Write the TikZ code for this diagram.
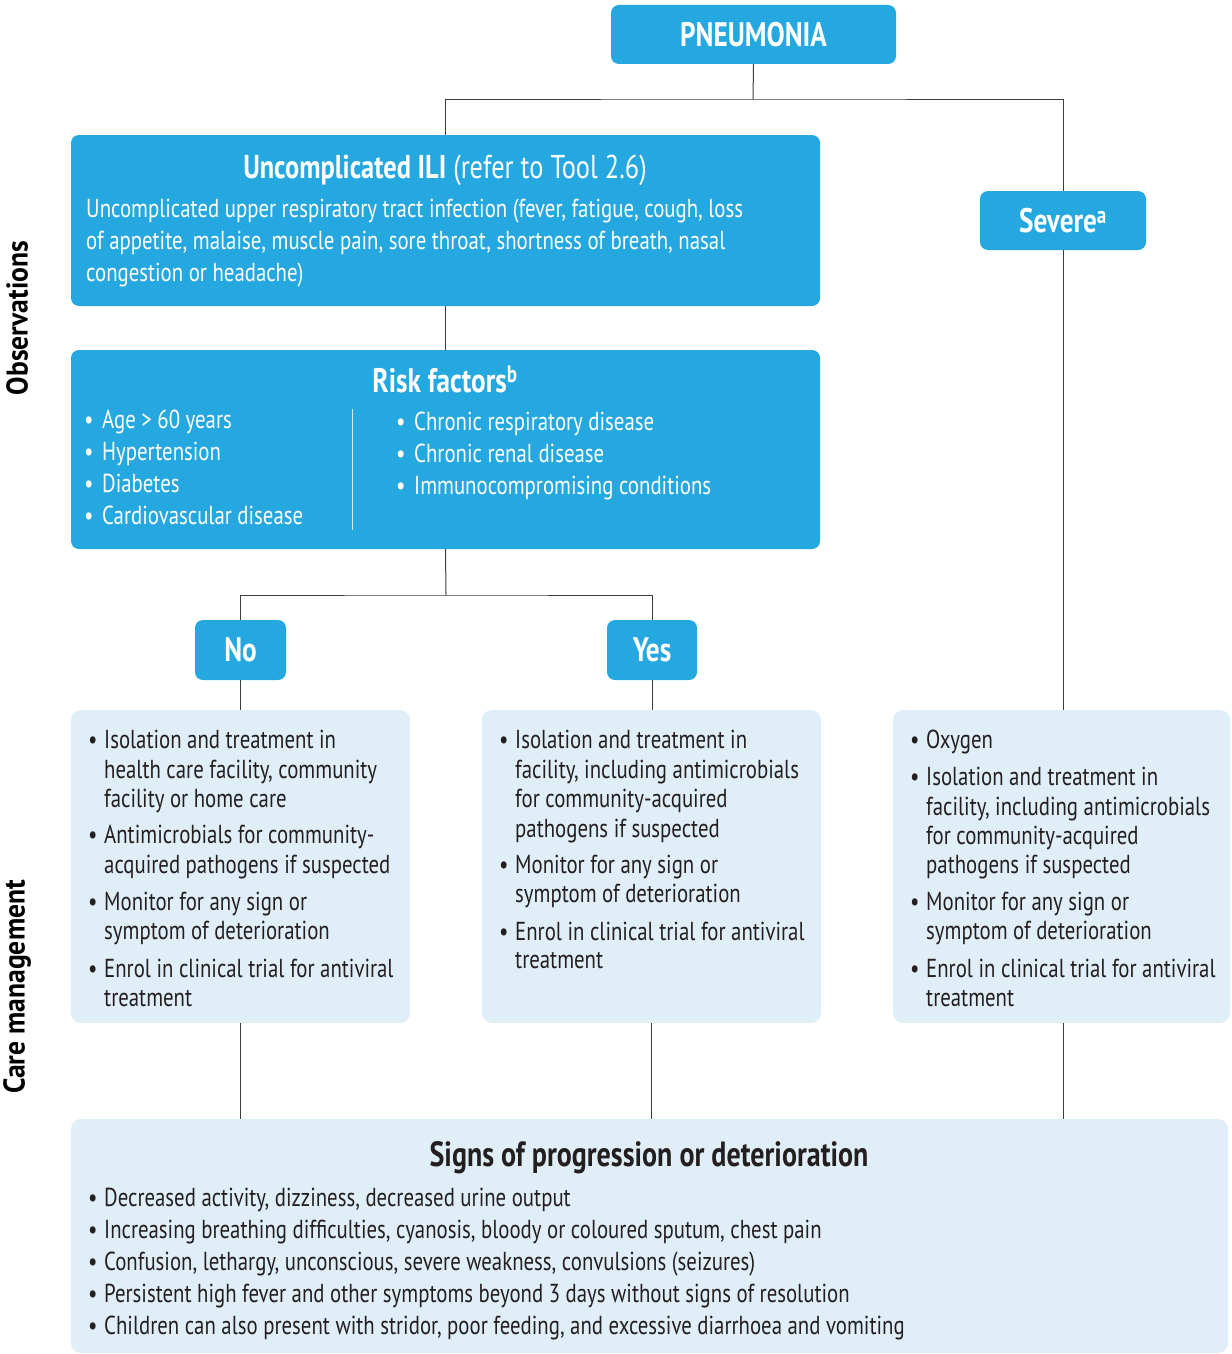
\documentclass[tikz,border=0pt]{standalone}
\usepackage{fontspec}
\setmainfont[FakeStretch=0.80]{PT Sans}
\newfontfamily\sidefont[FakeStretch=0.92]{PT Sans}
\definecolor{cblue}{HTML}{24A8DF}
\definecolor{clight}{HTML}{E0EEF8}
\definecolor{cdark}{HTML}{231F20}
\definecolor{lc}{HTML}{3C3C3C}
\tikzset{
  conn/.style={draw=lc, line width=1pt},
  bluebox/.style={fill=cblue, rounded corners=8pt, inner sep=0pt, text=white, font=\fontsize{34}{40}\selectfont\bfseries},
  lightbox/.style={fill=clight, rounded corners=10pt, inner sep=0pt},
  wt/.style={text=white, inner sep=0pt, anchor=base west, font=\fontsize{26}{30}\selectfont},
  dt/.style={text=cdark, inner sep=0pt, anchor=base west, font=\fontsize{26}{30}\selectfont},
  wtitle/.style={text=white, inner sep=0pt, anchor=base, font=\fontsize{33}{38}\selectfont},
  dtitle/.style={text=cdark, inner sep=0pt, anchor=base, font=\fontsize{35}{40}\selectfont\bfseries},
  side/.style={text=black, inner sep=0pt, rotate=90, font=\sidefont\fontsize{30}{34}\selectfont\bfseries},
}
\newcommand\blines[5]{%
  \foreach \yy/\bb/\txt [count=\ii] in {#5} {%
    \node[#1] (#2t\ii) at (#4,\yy) {\txt};%
    \ifnum\bb=1 \node[#1] (#2b\ii) at (#3,\yy) {\textbullet};\fi
  }}
\begin{document}
\begin{tikzpicture}[x=1pt,y=-1pt]
\useasboundingbox (0,0) rectangle (1231,1354);
% side labels
\node[side] (obs) at (17,318) {Observations};
\node[side] (carem) at (17,987) {Care management};
% boxes
\node[bluebox, minimum width=285pt, minimum height=59pt] (pn) at (753.5,34.5) {PNEUMONIA};
\node[bluebox, minimum width=749pt, minimum height=171pt] (ili) at (445.5,220.5) {};
\node[bluebox, minimum width=749pt, minimum height=199pt] (risk) at (445.5,449.5) {};
\node[bluebox, minimum width=166pt, minimum height=59pt] (sev) at (1063,220.5) {Severe\textsuperscript{a}};
\node[bluebox, minimum width=91pt, minimum height=60pt] (no) at (240.5,650) {No};
\node[bluebox, minimum width=90pt, minimum height=60pt] (yes) at (652,650) {Yes};
\node[lightbox, minimum width=339pt, minimum height=313pt] (nocare) at (240.5,866.5) {};
\node[lightbox, minimum width=339pt, minimum height=313pt] (yescare) at (651.5,866.5) {};
\node[lightbox, minimum width=337pt, minimum height=313pt] (sevcare) at (1061.5,866.5) {};
\node[lightbox, minimum width=1157pt, minimum height=234pt] (signs) at (649.5,1236) {};
% connectors
\coordinate (j1) at (753,99);
\coordinate (j2) at (446,595);
\draw[conn] (pn.south) -- (j1);
\draw[conn] (ili.north) |- (j1) -| (sev.north);
\draw[conn] (ili.south) -- (risk.north);
\draw[conn] (risk.south) -- (j2);
\draw[conn] (no.north) |- (j2) -| (yes.north);
\draw[conn] (no.south) -- (no.south |- nocare.north);
\draw[conn] (yes.south) -- (yes.south |- yescare.north);
\draw[conn] (sev.south) -- (sev.south |- sevcare.north);
\draw[conn] (nocare.south) -- (nocare.south |- signs.north);
\draw[conn] (yescare.south) -- (yescare.south |- signs.north);
\draw[conn] (sev.south |- sevcare.south) -- (sev.south |- signs.north);
% ILI text
\node[wtitle] (ilititle) at (445,178) {\textbf{Uncomplicated ILI} (refer to Tool 2.6)};
\blines{wt}{ili}{86}{86}{217/0/{Uncomplicated upper respiratory tract infection (fever, fatigue, cough, loss}, 249/0/{of appetite, malaise, muscle pain, sore throat, shortness of breath, nasal}, 281/0/{congestion or headache)}}
% Risk text
\node[wtitle, font=\fontsize{34}{40}\selectfont\bfseries] (risktitle) at (445,392) {Risk factors\textsuperscript{b}};
\blines{wt}{rl}{84}{102}{428/1/{Age > 60 years}, 460/1/Hypertension, 492/1/Diabetes, 524/1/{Cardiovascular disease}}
\blines{wt}{rr}{396}{414}{430/1/{Chronic respiratory disease}, 462/1/{Chronic renal disease}, 494/1/{Immunocompromising conditions}}
\draw[white!80!cblue, line width=1pt] (352,409) -- (352,530);
% care text
\blines{dt}{nc}{88}{104}{748/1/{Isolation and treatment in}, 778/0/{health care facility, community}, 807/0/{facility or home care}, 843/1/{Antimicrobials for community-}, 873/0/{acquired pathogens if suspected}, 910/1/{Monitor for any sign or}, 939/0/{symptom of deterioration}, 977/1/{Enrol in clinical trial for antiviral}, 1006/0/treatment}
\blines{dt}{yc}{499}{515}{748/1/{Isolation and treatment in}, 778/0/{facility, including antimicrobials}, 807/0/{for community-acquired}, 837/0/{pathogens if suspected}, 873/1/{Monitor for any sign or}, 902/0/{symptom of deterioration}, 940/1/{Enrol in clinical trial for antiviral}, 968/0/treatment}
\blines{dt}{sc}{910}{926}{748/1/Oxygen, 785/1/{Isolation and treatment in}, 815/0/{facility, including antimicrobials}, 844/0/{for community-acquired}, 873/0/{pathogens if suspected}, 910/1/{Monitor for any sign or}, 939/0/{symptom of deterioration}, 977/1/{Enrol in clinical trial for antiviral}, 1006/0/treatment}
% signs text
\node[dtitle] (signstitle) at (649,1166) {Signs of progression or deterioration};
\blines{dt}{sg}{88}{104}{1206/1/{Decreased activity, dizziness, decreased urine output}, 1238/1/{Increasing breathing difficulties, cyanosis, bloody or coloured sputum, chest pain}, 1270/1/{Confusion, lethargy, unconscious, severe weakness, convulsions (seizures)}, 1302/1/{Persistent high fever and other symptoms beyond 3 days without signs of resolution}, 1334/1/{Children can also present with stridor, poor feeding, and excessive diarrhoea and vomiting}}
\end{tikzpicture}
\end{document}
